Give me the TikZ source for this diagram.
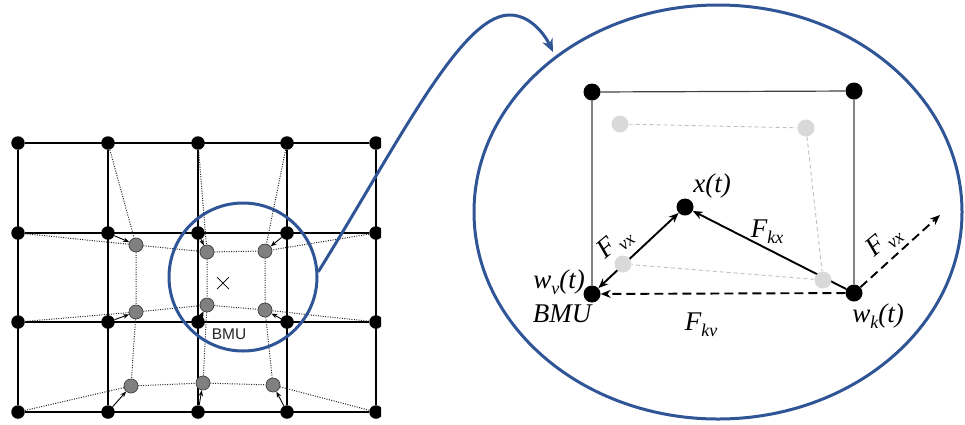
\documentclass[tikz,border=0pt]{standalone}
\usepackage{fontspec}
\setmainfont{Liberation Serif}
\newfontfamily\sansf{Liberation Sans}
\usetikzlibrary{arrows.meta,shapes.geometric,backgrounds}
\definecolor{myblue}{HTML}{2F5597}
\definecolor{ltgray}{HTML}{D9D9D9}
\definecolor{midgray}{HTML}{808080}
\newcommand\lblfont{\fontsize{27}{31}\selectfont\itshape}
\newcommand\sbs[1]{\raisebox{-6pt}{\fontsize{18}{18}\selectfont\itshape #1}}
\begin{document}
\begin{tikzpicture}[x=1pt,y=-1pt,
  gridline/.style={line width=1.6pt,black},
  gdot/.style={circle,fill=black,inner sep=0pt,minimum size=13.5pt},
  gnode/.style={circle,fill=midgray,draw=black!75,line width=0.7pt,inner sep=0pt,minimum size=14pt},
  dotl/.style={dash pattern=on 1pt off 1.4pt,line width=1pt,black!85},
  sarrow/.style={-{Stealth[length=6pt,width=4.5pt]},line width=0.9pt},
  bnode/.style={circle,fill=black,inner sep=0pt,minimum size=17pt},
  lnode/.style={circle,fill=ltgray,inner sep=0pt,minimum size=17pt},
  frame/.style={line width=1.2pt,black!75},
  ghost/.style={dash pattern=on 4pt off 3pt,line width=0.9pt,black!25},
  force/.style={line width=1.9pt,black,>={Stealth[length=10pt,width=8pt]}},
  lbl/.style={inner sep=0pt,font=\lblfont},
  blueline/.style={line width=3pt,myblue}
]
\useasboundingbox (0,0) rectangle (965,424);

% ---------- left grid ----------
\begin{scope}
\clip (0,0) rectangle (381,424);
\foreach \r/\y in {0/143,1/233,2/322,3/412}{
  \foreach \c/\x in {0/18,1/108,2/198,3/287,4/376}{
    \node[gdot] (n\r\c) at (\x,\y) {};
  }
}
\foreach \r in {0,1,2,3} \draw[gridline] (n\r0) -- (n\r4);
\foreach \c in {0,1,2,3,4} \draw[gridline] (n0\c) -- (n3\c);

\node[gnode] (g11) at (136,245) {};
\node[gnode] (g12) at (207,252) {};
\node[gnode] (g13) at (265,251) {};
\node[gnode] (g21) at (136,312) {};
\node[gnode] (g22) at (207,305) {};
\node[gnode] (g23) at (265,310) {};
\node[gnode] (g31) at (131,386) {};
\node[gnode] (g32) at (203,383) {};
\node[gnode] (g33) at (273,385) {};

\draw[dotl] (n01) -- (g11) (n02) -- (g12) (n03) -- (g13);
\draw[dotl] (n10) -- (g11) (n20) -- (g21) (n30) -- (g31);
\draw[dotl] (n14) -- (g13) (n24) -- (g23) (n34) -- (g33);
\draw[dotl] (g11) -- (g12) (g12) -- (g13) (g21) -- (g22) (g22) -- (g23)
            (g31) -- (g32) (g32) -- (g33);
\draw[dotl] (g11) -- (g21) (g21) -- (g31) (g12) -- (g22) (g22) -- (g32)
            (g13) -- (g23) (g23) -- (g33);

\draw[sarrow] (n11) -- (g11);
\draw[sarrow] (n12) -- (g12);
\draw[sarrow] (n13) -- (g13);
\draw[sarrow] (n21) -- (g21);
\draw[-{Stealth[length=8pt,width=7pt]},line width=1.8pt] (n22) -- (g22);
\draw[sarrow] (n23) -- (g23);
\draw[sarrow] (n31) -- (g31);
\draw[sarrow] (n32) -- (g32);
\draw[sarrow] (n33) -- (g33);
\end{scope}

\node[inner sep=0pt,font=\sansf\fontsize{15.5}{16}\selectfont,text=black!85] (bmuL) at (229,334) {BMU};
\node[inner sep=0pt] (cross) at (223,283) {};
\draw[line width=0.7pt] ([shift={(-6,-6)}]cross.center) -- ([shift={(6,6)}]cross.center)
                        ([shift={(-6,6)}]cross.center) -- ([shift={(6,-6)}]cross.center);

% ---------- zoom circle and connector ----------
\node[circle,draw=myblue,line width=3pt,minimum size=148pt,inner sep=0pt] (zc) at (243,277) {};
\node[ellipse,draw=myblue,line width=3pt,minimum width=488pt,minimum height=414pt,inner sep=0pt] (ze) at (718,212) {};
\coordinate (tipend) at (553,52);
\draw[blueline,-{Stealth[length=13pt,width=11pt]}] (zc.4) .. controls (400,140) and (460,18) .. (508,15)
   .. controls (530,14) and (545,35) .. (tipend);

% ---------- zoomed cell ----------
\node[bnode] (A) at (592,92) {};
\node[bnode] (B) at (854,91) {};
\node[bnode] (V) at (592,294) {};
\node[bnode] (K) at (854,293) {};
\node[lnode] (ga) at (620,124) {};
\node[lnode] (gb) at (806,128) {};
\node[lnode] (gc) at (623,264) {};
\node[lnode] (gd) at (823,280) {};
\node[bnode] (X) at (685,207) {};
\coordinate (fend) at (940,215);

\begin{pgfonlayer}{background}
\draw[frame] (V) -- (A) -- (B) -- (K);
\draw[ghost] (ga) -- (gb) -- (gd) -- (gc) -- cycle;
\draw[force,<->] (V) -- (X);
\draw[force,->] (K) -- (X);
\draw[force,dash pattern=on 9pt off 5pt,->] (K) -- (V);
\draw[force,dash pattern=on 9pt off 5pt,->] (K) -- (fend);
\end{pgfonlayer}

\node[lbl] (lx) at (712,186) {x(t)};
\node[lbl] (lkx) at (767,232) {F\sbs{kx}};
\node[lbl] (lkv) at (701,325) {F\sbs{kv}};
\node[lbl,rotate=40] (lvx1) at (615,244) {F\hspace{3pt}\sbs{vx}};
\node[lbl,rotate=40] (lvx2) at (884,242) {F\hspace{3pt}\sbs{vx}};
\node[lbl] (lwv) at (559,282) {w\sbs{v}(t)};
\node[lbl] (lbmu) at (562,314) {BMU};
\node[lbl] (lwk) at (878,316) {w\sbs{k}(t)};
\end{tikzpicture}
\end{document}
